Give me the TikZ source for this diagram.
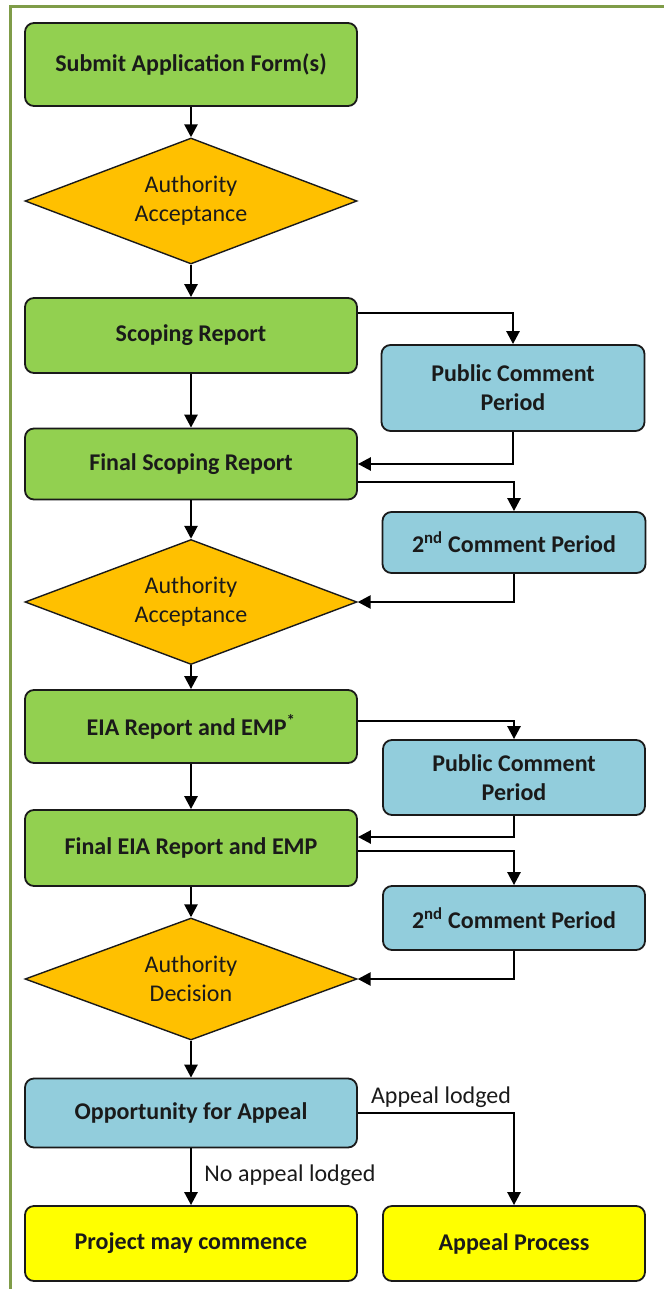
\documentclass[tikz,border=0pt]{standalone}
\usepackage{fontspec}
\setmainfont{Carlito}
\usetikzlibrary{shapes.geometric,arrows.meta,calc}
\definecolor{gfill}{HTML}{92D050}
\definecolor{ofill}{HTML}{FFC000}
\definecolor{bfill}{HTML}{92CDDC}
\definecolor{yfill}{HTML}{FFFF00}
\definecolor{frameclr}{HTML}{7F9C48}
\definecolor{edge}{HTML}{1A1A1A}
\tikzset{
  box/.style={draw=edge, line width=1.8pt, rounded corners=9pt, align=center,
    font=\fontsize{24}{29}\selectfont\bfseries, text=edge, inner sep=2pt},
  greenbox/.style={box, fill=gfill, minimum width=332pt},
  bluebox/.style={box, fill=bfill},
  yellowbox/.style={box, fill=yfill},
  decision/.style={diamond, draw=edge, line width=1.4pt, fill=ofill, aspect=2.63,
    inner sep=0pt, minimum width=332pt, align=center,
    font=\fontsize{24}{29}\selectfont, text=edge},
  arr/.style={draw=black, line width=2.6pt, -{Triangle[length=13pt,width=13pt]}},
  lbl/.style={font=\fontsize{24}{29}\selectfont, text=edge, inner sep=0pt},
  frame/.style={draw=frameclr, line width=2.5pt}
}
\begin{document}
\begin{tikzpicture}[x=1pt,y=-1pt]
\useasboundingbox (0,0) rectangle (664,1289);
\draw[frame] (10.5,1289) -- (10.5,6.5) -- (664,6.5);

\node[greenbox, minimum height=83pt] (sub) at (191,64.5) {Submit Application Form(s)};
\node[decision, minimum height=126pt] (dia1) at (191,201) {Authority\\Acceptance};
\node[greenbox, minimum height=75pt] (scop) at (191,335.5) {Scoping Report};
\node[bluebox, minimum width=263pt, minimum height=86pt] (pcp1) at (513,388) {Public Comment\\Period};
\node[greenbox, minimum height=71pt] (fscop) at (191,464) {Final Scoping Report};
\node[bluebox, minimum width=263pt, minimum height=61pt] (sec1) at (514,542.5) {2\textsuperscript{nd} Comment Period};
\node[decision, minimum height=125pt] (dia2) at (191,602) {Authority\\Acceptance};
\node[greenbox, minimum height=73pt] (eia) at (191,726.5) {EIA Report and EMP\textsuperscript{*}};
\node[bluebox, minimum width=262pt, minimum height=75pt] (pcp2) at (514,777.5) {Public Comment\\Period};
\node[greenbox, minimum height=76pt] (feia) at (191,848) {Final EIA Report and EMP};
\node[bluebox, minimum width=262pt, minimum height=64pt] (sec2) at (514,918) {2\textsuperscript{nd} Comment Period};
\node[decision, minimum height=122pt] (dia3) at (191,979) {Authority\\Decision};
\node[bluebox, minimum width=332pt, minimum height=69pt] (opp) at (191,1113) {Opportunity for Appeal};
\node[yellowbox, minimum width=332pt, minimum height=75pt] (proj) at (191,1243.5) {Project may commence};
\node[yellowbox, minimum width=262pt, minimum height=75pt] (app) at (514,1243.5) {Appeal Process};

\draw[arr] (sub) -- (dia1);
\draw[arr] (dia1) -- (scop);
\draw[arr] (scop) -- (fscop);
\draw[arr] ([yshift=22.5pt]scop.east) -| (pcp1.north);
\draw[arr] (pcp1.south) |- (fscop.east);
\draw[arr] ([yshift=-18pt]fscop.east) -| (sec1.north);
\draw[arr] (sec1.south) |- (dia2.east);
\draw[arr] (fscop) -- (dia2);
\draw[arr] (dia2) -- (eia);
\draw[arr] ([yshift=5.5pt]eia.east) -| (pcp2.north);
\draw[arr] (eia) -- (feia);
\draw[arr] (pcp2.south) |- ([yshift=11pt]feia.east);
\draw[arr] ([yshift=-3pt]feia.east) -| (sec2.north);
\draw[arr] (sec2.south) |- (dia3.east);
\draw[arr] (feia) -- (dia3);
\draw[arr] (dia3) -- (opp);
\draw[arr] (opp.east) -| (app.north);
\draw[arr] (opp) -- (proj);

\node[lbl] (lal) at (441,1097) {Appeal lodged};
\node[lbl] (lnal) at (290,1175) {No appeal lodged};
\end{tikzpicture}
\end{document}
